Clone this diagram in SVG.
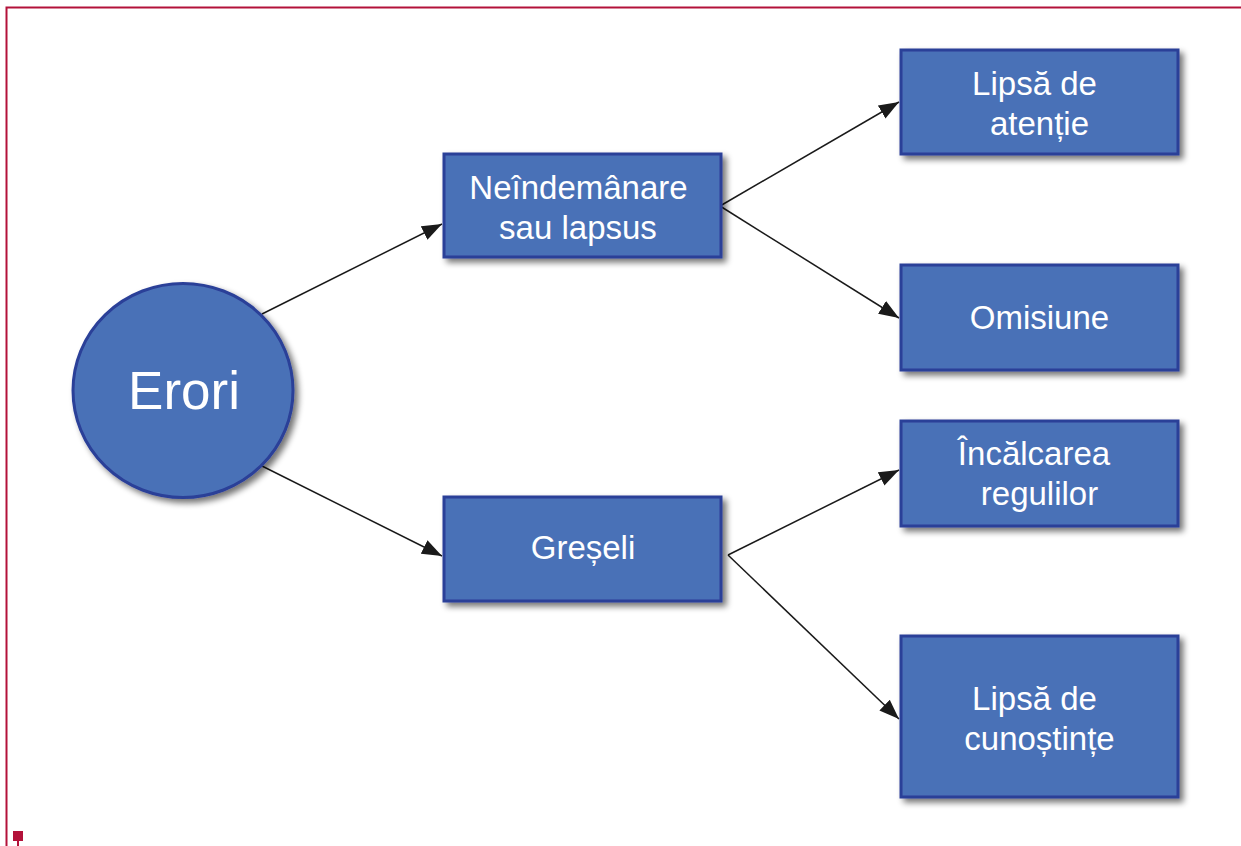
<svg xmlns="http://www.w3.org/2000/svg" width="1241" height="846" viewBox="0 0 1241 846">
<style>
.box{fill:#4a71b7;stroke:#2b3f98;stroke-width:3}
.lbl{font-family:"Liberation Sans",Arial,sans-serif;font-size:33px;fill:#ffffff;text-anchor:middle}
.con{stroke:#1a1a1a;stroke-width:1.5;fill:none;marker-end:url(#arr)}
.frame{stroke:#b3123a;stroke-width:2;fill:none}
</style>
<defs>
<marker id="arr" markerUnits="userSpaceOnUse" markerWidth="22" markerHeight="16" refX="20" refY="8" orient="auto">
<path d="M0,0.5 L20,8 L0,15.5 Z" fill="#1a1a1a"/>
</marker>
<filter id="sh" x="-10%" y="-10%" width="130%" height="130%">
<feGaussianBlur in="SourceAlpha" stdDeviation="3"/>
<feOffset dx="4" dy="4" result="b"/>
<feComponentTransfer><feFuncA type="linear" slope="0.55"/></feComponentTransfer>
<feMerge><feMergeNode/><feMergeNode in="SourceGraphic"/></feMerge>
</filter>
</defs>
<rect width="1241" height="846" fill="#ffffff"/>
<g id="frame">
<path class="frame" d="M6.5,846 L6.5,7.5 L1241,7.5"/>
<rect x="13" y="831" width="10" height="10" fill="#b3123a"/>
<rect x="17" y="841" width="2" height="5" fill="#b3123a"/>
</g>
<g id="connectors">
<line class="con" x1="262" y1="314" x2="442" y2="224"/>
<line class="con" x1="262" y1="466" x2="442" y2="556"/>
<line class="con" x1="720" y1="206" x2="899" y2="102"/>
<line class="con" x1="720" y1="206" x2="899" y2="318"/>
<line class="con" x1="728" y1="555" x2="899" y2="470"/>
<line class="con" x1="728" y1="555" x2="899" y2="719"/>
</g>
<g id="erori">
<ellipse cx="183" cy="390.5" rx="110" ry="107" class="box" filter="url(#sh)"/>
<text x="184" y="409" class="lbl" style="font-size:53px">Erori</text>
</g>
<g id="neindemanare">
<rect x="444" y="154" width="277" height="103" class="box" filter="url(#sh)"/>
<text x="578.5" y="199" class="lbl">Neîndemânare</text>
<text x="578" y="239" class="lbl">sau lapsus</text>
</g>
<g id="greseli">
<rect x="444" y="497" width="277" height="104" class="box" filter="url(#sh)"/>
<text x="583" y="559" class="lbl">Greșeli</text>
</g>
<g id="lipsa-atentie">
<rect x="901" y="50" width="277" height="104" class="box" filter="url(#sh)"/>
<text x="1034.5" y="95" class="lbl">Lipsă de</text>
<text x="1039.5" y="135" class="lbl">atenție</text>
</g>
<g id="omisiune">
<rect x="901" y="265" width="277" height="105" class="box" filter="url(#sh)"/>
<text x="1039.5" y="329" class="lbl">Omisiune</text>
</g>
<g id="incalcarea">
<rect x="901" y="421" width="277" height="105" class="box" filter="url(#sh)"/>
<text x="1034" y="465" class="lbl">Încălcarea</text>
<text x="1039.5" y="505" class="lbl">regulilor</text>
</g>
<g id="lipsa-cunostinte">
<rect x="901" y="636" width="277" height="161" class="box" filter="url(#sh)"/>
<text x="1034.5" y="710" class="lbl">Lipsă de</text>
<text x="1039.5" y="750" class="lbl">cunoștințe</text>
</g>
</svg>
